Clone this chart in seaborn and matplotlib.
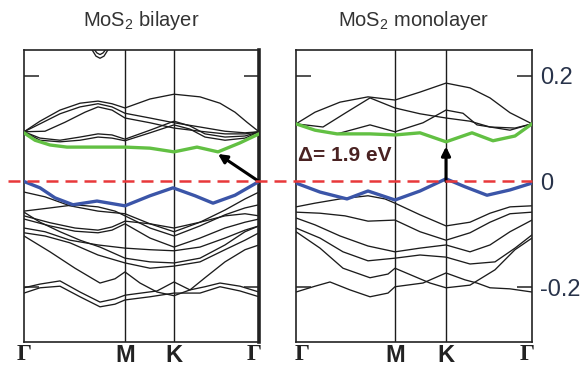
import matplotlib
matplotlib.use("Agg")
import matplotlib.pyplot as plt
import numpy as np
import pandas as pd
import seaborn as sns
from matplotlib.lines import Line2D
from matplotlib.transforms import blended_transform_factory, ScaledTranslation

# ---------------- data ----------------
sym_labels = ["Γ", "M", "K", "Γ"]
bi_sym_k = [0, 101, 150, 235]
mono_sym_k = [0, 99, 150, 236]
y_ticks = [-0.2, 0, 0.2]
y_tick_labels = ["-0.2", "0", "0.2"]
titles = ["MoS$_2$ bilayer", "MoS$_2$ monolayer"]
gap_label = "Δ= 1.9 eV"

# ----- bilayer: lowest conduction band (green) and top valence band (blue)
bi_cb_k = [0, 11, 26, 43, 76, 101, 126, 150, 173, 194, 216, 235]
bi_cb_E = [0.092, 0.078, 0.069, 0.065, 0.065, 0.065, 0.063, 0.056, 0.065, 0.056, 0.073, 0.090]
bi_vb_k = [0, 16, 31, 49, 73, 101, 126, 149, 171, 189, 211, 235]
bi_vb_E = [0.0, -0.012, -0.031, -0.044, -0.037, -0.046, -0.027, -0.012, -0.027, -0.041, -0.026, 0.0]

# ----- bilayer: other bands
bi_arc1_k = [64, 68, 72, 76, 80, 84, 88]
bi_arc1_E = [0.260, 0.249, 0.237, 0.233, 0.237, 0.249, 0.260]
bi_arc2_k = [66, 70, 73, 76, 79, 82, 86]
bi_arc2_E = [0.260, 0.250, 0.243, 0.240, 0.243, 0.250, 0.260]
bi_c1_k = [0, 16, 36, 56, 74, 88, 101, 126, 150, 176, 196, 211, 223, 235]
bi_c1_E = [0.094, 0.114, 0.135, 0.148, 0.152, 0.147, 0.139, 0.156, 0.165, 0.160, 0.148, 0.131, 0.112, 0.094]
bi_c2_k = [0, 16, 36, 56, 74, 88, 101, 126, 150, 176, 201, 221, 235]
bi_c2_E = [0.094, 0.109, 0.128, 0.141, 0.147, 0.141, 0.129, 0.120, 0.111, 0.103, 0.095, 0.092, 0.094]
bi_c3_k = [0, 21, 41, 61, 74, 88, 101, 126, 150, 176, 201, 221, 235]
bi_c3_E = [0.094, 0.095, 0.112, 0.131, 0.141, 0.135, 0.120, 0.111, 0.101, 0.095, 0.090, 0.090, 0.094]
bi_c4_k = [0, 16, 36, 56, 74, 88, 101, 126, 150, 166, 181, 201, 221, 235]
bi_c4_E = [0.094, 0.082, 0.078, 0.084, 0.090, 0.088, 0.080, 0.097, 0.114, 0.105, 0.090, 0.084, 0.086, 0.094]
bi_c5_k = [0, 16, 36, 56, 74, 88, 101, 126, 150, 166, 181, 201, 221, 235]
bi_c5_E = [0.094, 0.078, 0.075, 0.078, 0.084, 0.082, 0.077, 0.092, 0.107, 0.099, 0.084, 0.078, 0.082, 0.094]

bi_v2_k = [0, 21, 46, 74, 101, 126, 150, 176, 201, 221, 235]
bi_v2_E = [-0.020, -0.029, -0.046, -0.056, -0.061, -0.080, -0.095, -0.077, -0.054, -0.033, -0.020]
bi_v3_k = [0, 26, 51, 74, 91, 101, 126, 150, 176, 201, 221, 235]
bi_v3_E = [-0.056, -0.050, -0.044, -0.048, -0.056, -0.065, -0.088, -0.103, -0.084, -0.063, -0.050, -0.044]
bi_v4_k = [0, 26, 51, 74, 88, 101, 126, 150, 176, 201, 221, 235]
bi_v4_E = [-0.065, -0.078, -0.088, -0.092, -0.086, -0.075, -0.080, -0.088, -0.077, -0.065, -0.061, -0.065]
bi_v5_k = [0, 26, 51, 74, 88, 101, 126, 150, 176, 201, 221, 235]
bi_v5_E = [-0.071, -0.084, -0.094, -0.097, -0.092, -0.080, -0.107, -0.124, -0.107, -0.088, -0.077, -0.071]
bi_v6_k = [0, 16, 36, 56, 76, 101, 126, 150, 176, 201, 221, 235]
bi_v6_E = [-0.058, -0.077, -0.095, -0.111, -0.124, -0.145, -0.152, -0.154, -0.145, -0.120, -0.095, -0.084]
bi_v7_k = [0, 21, 46, 74, 101, 126, 150, 176, 201, 221, 235]
bi_v7_E = [-0.088, -0.095, -0.111, -0.120, -0.126, -0.129, -0.131, -0.124, -0.107, -0.092, -0.084]
bi_v8_k = [0, 21, 46, 74, 101, 126, 150, 176, 201, 221, 235]
bi_v8_E = [-0.097, -0.103, -0.116, -0.139, -0.154, -0.164, -0.160, -0.152, -0.129, -0.111, -0.097]
bi_v9_k = [0, 26, 51, 76, 91, 101, 116, 133, 150, 166, 181, 201, 221, 235]
bi_v9_E = [-0.103, -0.133, -0.164, -0.192, -0.184, -0.171, -0.192, -0.209, -0.216, -0.205, -0.182, -0.152, -0.129, -0.120]
bi_v10_k = [0, 16, 36, 56, 76, 91, 101, 133, 150, 166, 181, 196, 216, 235]
bi_v10_E = [-0.201, -0.194, -0.188, -0.209, -0.228, -0.222, -0.215, -0.207, -0.190, -0.205, -0.199, -0.192, -0.198, -0.209]
bi_v11_k = [0, 16, 36, 56, 76, 91, 101, 126, 150, 176, 196, 216, 235]
bi_v11_E = [-0.211, -0.201, -0.198, -0.218, -0.237, -0.232, -0.224, -0.218, -0.211, -0.211, -0.199, -0.207, -0.218]

# ----- monolayer: lowest conduction band (green) and top valence band (blue)
mono_cb_k = [0, 19, 41, 74, 99, 124, 150, 176, 197, 219, 236]
mono_cb_E = [0.109, 0.097, 0.090, 0.090, 0.088, 0.092, 0.075, 0.092, 0.077, 0.086, 0.109]
mono_vb_k = [0, 24, 51, 72, 99, 124, 150, 169, 191, 214, 236]
mono_vb_E = [-0.003, -0.020, -0.033, -0.018, -0.035, -0.018, 0.005, -0.010, -0.026, -0.016, -0.003]

# ----- monolayer: other bands
mono_c1_k = [0, 19, 44, 72, 99, 124, 150, 174, 194, 214, 236]
mono_c1_E = [0.109, 0.131, 0.150, 0.160, 0.154, 0.169, 0.186, 0.177, 0.158, 0.130, 0.109]
mono_c2_k = [0, 27, 49, 74, 99, 124, 150, 174, 194, 219, 236]
mono_c2_E = [0.109, 0.103, 0.129, 0.158, 0.139, 0.128, 0.120, 0.114, 0.103, 0.101, 0.109]
mono_c3_k = [0, 19, 41, 74, 99, 127, 150, 167, 181, 214, 236]
mono_c3_E = [0.109, 0.097, 0.090, 0.107, 0.094, 0.111, 0.135, 0.129, 0.107, 0.097, 0.109]

mono_v2_k = [0, 19, 44, 72, 89, 99, 124, 150, 174, 194, 214, 236]
mono_v2_E = [-0.048, -0.041, -0.033, -0.027, -0.033, -0.041, -0.063, -0.084, -0.077, -0.060, -0.048, -0.046]
mono_v3_k = [0, 24, 49, 72, 99, 124, 150, 174, 194, 214, 236]
mono_v3_E = [-0.058, -0.060, -0.065, -0.075, -0.073, -0.095, -0.111, -0.097, -0.077, -0.061, -0.058]
mono_v4_k = [0, 19, 44, 72, 99, 124, 150, 174, 194, 214, 236]
mono_v4_E = [-0.069, -0.082, -0.103, -0.122, -0.133, -0.126, -0.120, -0.133, -0.120, -0.095, -0.073]
mono_v5_k = [0, 24, 47, 72, 99, 124, 150, 174, 199, 219, 236]
mono_v5_E = [-0.088, -0.107, -0.133, -0.150, -0.145, -0.139, -0.143, -0.156, -0.152, -0.126, -0.101]
mono_v6_k = [0, 24, 47, 74, 92, 99, 134, 150, 174, 199, 219, 236]
mono_v6_E = [-0.095, -0.126, -0.164, -0.182, -0.175, -0.164, -0.192, -0.201, -0.196, -0.167, -0.129, -0.107]
mono_v7_k = [0, 19, 34, 54, 74, 92, 99, 127, 150, 169, 181, 194, 214, 236]
mono_v7_E = [-0.209, -0.198, -0.190, -0.205, -0.218, -0.211, -0.199, -0.192, -0.173, -0.186, -0.192, -0.201, -0.203, -0.209]

# gap arrows (tail -> head), in (k, E)
bi_arrow = [(235, 0.0), (194, 0.052)]
mono_arrow = [(150, 0.0), (150, 0.066)]

# ---------------- style ----------------
sns.set_theme(style="white")
plt.rcParams["font.family"] = ["Liberation Sans", "DejaVu Sans"]
plt.rcParams["mathtext.fontset"] = "custom"
plt.rcParams["mathtext.rm"] = "Liberation Sans"
plt.rcParams["mathtext.it"] = "Liberation Sans:italic"

BLACK = "#1c1c1c"
GREEN = "#62c043"
BLUE = "#3b55a8"
RED = "#e8383a"
LABEL = "#28334a"

def frame(bands):
    rows = []
    for i, (k, E) in enumerate(bands):
        for kk, ee in zip(k, E):
            rows.append((i, kk, ee))
    return pd.DataFrame(rows, columns=["band", "k", "E"])

bi_black = frame([
    (bi_arc1_k, bi_arc1_E), (bi_arc2_k, bi_arc2_E),
    (bi_c1_k, bi_c1_E), (bi_c2_k, bi_c2_E), (bi_c3_k, bi_c3_E),
    (bi_c4_k, bi_c4_E), (bi_c5_k, bi_c5_E),
    (bi_v2_k, bi_v2_E), (bi_v3_k, bi_v3_E), (bi_v4_k, bi_v4_E),
    (bi_v5_k, bi_v5_E), (bi_v6_k, bi_v6_E), (bi_v7_k, bi_v7_E),
    (bi_v8_k, bi_v8_E), (bi_v9_k, bi_v9_E), (bi_v10_k, bi_v10_E),
    (bi_v11_k, bi_v11_E),
])
mono_black = frame([
    (mono_c1_k, mono_c1_E), (mono_c2_k, mono_c2_E), (mono_c3_k, mono_c3_E),
    (mono_v2_k, mono_v2_E), (mono_v3_k, mono_v3_E), (mono_v4_k, mono_v4_E),
    (mono_v5_k, mono_v5_E), (mono_v6_k, mono_v6_E), (mono_v7_k, mono_v7_E),
])

W, H = 584, 372
fig = plt.figure(figsize=(W / 100, H / 100), dpi=100)
axL = fig.add_axes([24 / W, 30 / H, 235 / W, 292 / H])
axR = fig.add_axes([296 / W, 30 / H, 236 / W, 292 / H])

YLIM = (-0.3035, 0.2486)

panels = [
    (axL, bi_black, (bi_cb_k, bi_cb_E), (bi_vb_k, bi_vb_E), bi_sym_k, bi_arrow, titles[0], [0, -5]),
    (axR, mono_black, (mono_cb_k, mono_cb_E), (mono_vb_k, mono_vb_E), mono_sym_k, mono_arrow, titles[1], [6, -5]),
]

for ax, black, cb, vb, symk, arrow, title, gshift in panels:
    sns.lineplot(data=black, x="k", y="E", units="band", estimator=None, sort=False,
                 color=BLACK, linewidth=0.95, ax=ax, legend=False, zorder=2)
    sns.lineplot(x=cb[0], y=cb[1], sort=False, color=GREEN, linewidth=2.4, ax=ax, zorder=3)
    sns.lineplot(x=vb[0], y=vb[1], sort=False, color=BLUE, linewidth=2.4, ax=ax, zorder=3)
    for kk in symk[1:3]:
        ax.axvline(kk, color=BLACK, linewidth=1.0, zorder=1)
    ax.set_xlim(symk[0], symk[-1])
    ax.set_ylim(*YLIM)
    ax.set_xlabel("")
    ax.set_ylabel("")
    ax.set_xticks(symk)
    ax.set_xticklabels(sym_labels)
    ax.tick_params(axis="x", length=0, pad=1.5, labelsize=17, colors="#222222")
    labs = ax.get_xticklabels()
    for i, lab in enumerate(labs):
        lab.set_fontweight("bold")
        if lab.get_text() == "Γ":
            lab.set_fontfamily("Liberation Serif")
    labs[0].set_transform(labs[0].get_transform() + ScaledTranslation(gshift[0] / 100, 0, fig.dpi_scale_trans))
    labs[-1].set_transform(labs[-1].get_transform() + ScaledTranslation(gshift[1] / 100, 0, fig.dpi_scale_trans))
    ax.set_yticks(y_ticks)
    ax.set_yticklabels(y_tick_labels)
    ax.tick_params(axis="y", direction="in", length=11, width=1.2, color="#333333",
                   left=True, right=True, labelleft=False, labelright=False)
    for t in ax.yaxis.get_major_ticks():
        if abs(t.get_loc()) < 1e-9:
            t.tick1line.set_visible(False)
            t.tick2line.set_visible(False)
    for s in ax.spines.values():
        s.set_visible(True)
        s.set_color("#222222")
        s.set_linewidth(1.2)
    ax.annotate("", xy=arrow[1], xytext=arrow[0],
                arrowprops=dict(arrowstyle="-|>", color="black", lw=2.2,
                                mutation_scale=13, shrinkA=0, shrinkB=0), zorder=5)
    pos = ax.get_position()
    fig.text((pos.x0 + pos.x1) / 2, 1 - 20 / H, title, ha="center", va="center",
             fontsize=14.5, color="#333333")

axL.spines["right"].set_linewidth(2.6)
axR.tick_params(axis="y", labelright=True, labelsize=17, labelcolor=LABEL, pad=6)

axR.text(2, 0.050, gap_label, ha="left", va="center", fontsize=15,
         color="#4a2222", fontweight="bold")

# Fermi level (dashed red) across both panels
tr = blended_transform_factory(fig.transFigure, axL.transData)
fig.add_artist(Line2D([8 / W, 532 / W], [0, 0], transform=tr, color=RED,
                      linewidth=1.8, linestyle=(0, (4.8, 2.8)), zorder=10))

fig.savefig("out.png", dpi=100)
